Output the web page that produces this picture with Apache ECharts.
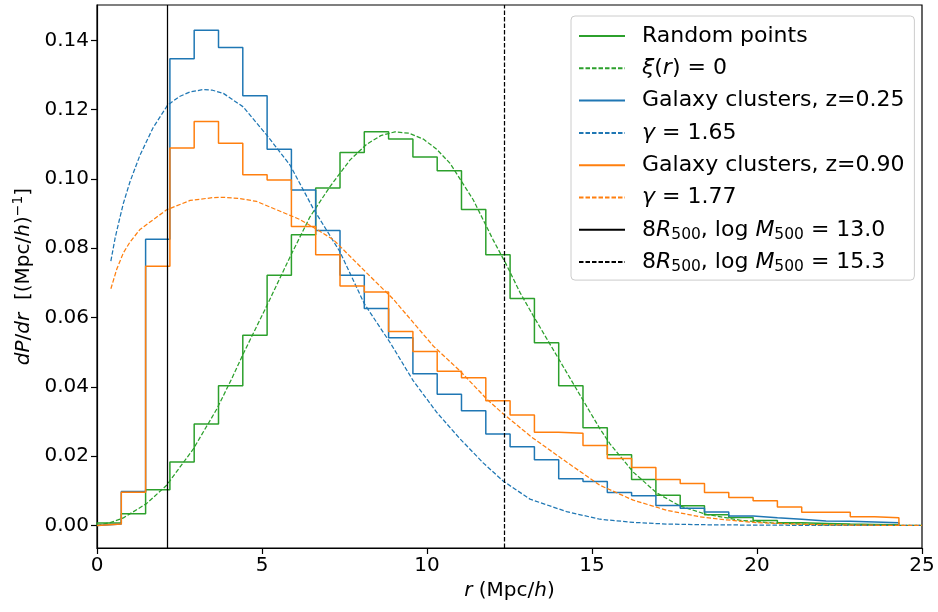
<!DOCTYPE html>
<html><head><meta charset="utf-8">
<script src="https://cdn.jsdelivr.net/npm/echarts@6/dist/echarts.min.js"></script>
<style>html,body{margin:0;padding:0;background:#fff}#c{width:938px;height:612px}</style>
</head><body><div id="c"></div>
<script>
// ---- data ----
const binEdges = [0, 0.736, 1.473, 2.209, 2.945, 3.682, 4.418, 5.155, 5.891, 6.627, 7.364, 8.100, 8.836, 9.573, 10.309, 11.045, 11.782, 12.518, 13.255, 13.991, 14.727, 15.464, 16.200, 16.936, 17.673, 18.409, 19.145, 19.882, 20.618, 21.355, 22.091, 22.827, 23.564, 24.300];
const histRandom = [0.0007, 0.0034, 0.0103, 0.0183, 0.0293, 0.0403, 0.0549, 0.0722, 0.0839, 0.0974, 0.1076, 0.1136, 0.1115, 0.1063, 0.1024, 0.0912, 0.0781, 0.0655, 0.0527, 0.0403, 0.0282, 0.0204, 0.0133, 0.0087, 0.0057, 0.0031, 0.0023, 0.0014, 0.0008, 0.0006, 0.0004, 0.0003, 0.0002];
const histZ025 = [0.0004, 0.0098, 0.0826, 0.1347, 0.1429, 0.1379, 0.1240, 0.1086, 0.0968, 0.0851, 0.0722, 0.0626, 0.0542, 0.0438, 0.0379, 0.0331, 0.0264, 0.0227, 0.0190, 0.0135, 0.0127, 0.0095, 0.0086, 0.0058, 0.0050, 0.0039, 0.0027, 0.0022, 0.0018, 0.0013, 0.0012, 0.0010, 0.0008];
const histZ090 = [0.0004, 0.0096, 0.0748, 0.1089, 0.1166, 0.1103, 0.1012, 0.0997, 0.0863, 0.0781, 0.0691, 0.0674, 0.0560, 0.0502, 0.0445, 0.0426, 0.0360, 0.0319, 0.0269, 0.0266, 0.0231, 0.0193, 0.0167, 0.0133, 0.0121, 0.0095, 0.0081, 0.0071, 0.0053, 0.0038, 0.0038, 0.0025, 0.0022];

const rXi0 = [0, 0.4, 0.8, 1.5, 2.11, 2.92, 3.63, 4.08, 4.43, 5.14, 5.85, 6.45, 7.06, 7.67, 8.17, 8.6, 9.03, 9.45, 9.89, 10.3, 10.7, 11.4, 12.0, 12.42, 12.82, 13.22, 14.23, 15.24, 15.55, 16.25, 16.96, 17.67, 18.47, 19.5, 20.5, 22, 25];
const pXi0 = [0, 0.0008, 0.0022, 0.0063, 0.0116, 0.0221, 0.0336, 0.0423, 0.0495, 0.0633, 0.0775, 0.0890, 0.0978, 0.1055, 0.1100, 0.1125, 0.1136, 0.1132, 0.1115, 0.1085, 0.1045, 0.0940, 0.0825, 0.0750, 0.0672, 0.0605, 0.0442, 0.0279, 0.0235, 0.0154, 0.0094, 0.0056, 0.0032, 0.0015, 0.0007, 0.0002, 0.0];

const rG165 = [0.42, 0.55, 0.68, 0.8, 1.0, 1.3, 1.7, 2.14, 2.5, 2.82, 3.22, 3.5, 3.83, 4.43, 5.14, 5.85, 6.55, 7.36, 8.1, 8.88, 9.58, 10.29, 11.0, 11.71, 12.31, 13.12, 14.23, 15.24, 16.25, 17.26, 18.5, 20, 22, 25];
const pG165 = [0.0763, 0.0830, 0.0883, 0.0930, 0.0992, 0.1068, 0.1148, 0.1213, 0.1238, 0.1251, 0.1258, 0.1256, 0.1247, 0.1208, 0.1127, 0.1040, 0.0915, 0.0790, 0.0640, 0.0528, 0.0418, 0.0327, 0.0250, 0.0180, 0.0128, 0.0076, 0.0040, 0.0018, 0.0009, 0.0004, 0.0002, 0.0001, 0.00003, 0.0];

const rG177 = [0.42, 0.6, 0.8, 1.0, 1.3, 2.11, 2.82, 3.5, 3.83, 4.3, 4.84, 5.85, 6.15, 6.65, 7.16, 8.17, 8.98, 10.19, 11.0, 11.81, 12.25, 13.17, 14.23, 15.24, 16.25, 17.26, 18.27, 18.88, 20, 21.5, 23, 25];
const pG177 = [0.0683, 0.0740, 0.0787, 0.0818, 0.0854, 0.0911, 0.0938, 0.0946, 0.0947, 0.0944, 0.0935, 0.0895, 0.0883, 0.0855, 0.0825, 0.0729, 0.0653, 0.0518, 0.0446, 0.0365, 0.0327, 0.0255, 0.0183, 0.0116, 0.0073, 0.0044, 0.0025, 0.0018, 0.0008, 0.0003, 0.0001, 0.0];

const r500Low = 2.14;   // 8R500, log M500 = 13.0
const r500High = 12.33; // 8R500, log M500 = 15.3

const xTicks = [0, 5, 10, 15, 20, 25];
const yTicks = [0, 0.02, 0.04, 0.06, 0.08, 0.10, 0.12, 0.14];
const xRange = [0, 25];
const yRange = [-0.0065, 0.1502];

// ---- build ----
const FONT = 'DejaVu Sans';
const C_GREEN = '#2ca02c', C_BLUE = '#1f77b4', C_ORANGE = '#ff7f0e';
function stepPoints(vals) {
  const pts = [[binEdges[0], 0]];
  vals.forEach((v, i) => { pts.push([binEdges[i], v]); pts.push([binEdges[i + 1], v]); });
  pts.push([binEdges[binEdges.length - 1], 0]);
  return pts;
}
function pairs(xs, ys) { return xs.map((x, i) => [x, ys[i]]); }
const DASH = [4.5, 2];

const histSeries = (name, vals, color) => ({
  name, type: 'line', data: stepPoints(vals), symbol: 'none', silent: true,
  lineStyle: { color, width: 1.5 }, itemStyle: { color }
});
const fitSeries = (name, xs, ys, color) => ({
  name, type: 'line', data: pairs(xs, ys), symbol: 'none', smooth: false, silent: true,
  lineStyle: { color, width: 1.25, type: DASH }, itemStyle: { color }
});
const vlineSeries = (name, x, type) => ({
  name, type: 'line', data: [], symbol: 'none', silent: true,
  lineStyle: { color: '#000', width: 1.25, type }, itemStyle: { color: '#000' },
  markLine: { silent: true, symbol: 'none', label: { show: false },
    lineStyle: { color: '#000', width: 1.25, type }, data: [{ xAxis: x }] }
});

const rs = (size) => ({ fontFamily: FONT, fontSize: size, color: '#000' });
const legendRich = {
  n: Object.assign(rs(22), { lineHeight: 26 }),
  i: Object.assign(rs(22), { lineHeight: 26, fontStyle: 'italic' }),
  s: Object.assign(rs(15.5), { lineHeight: 12, verticalAlign: 'bottom' })
};
const legendLabels = {
  'Random points': '{n|Random points}',
  'xi': '{i|ξ}{n|(}{i|r}{n|) = 0}',
  'z025': '{n|Galaxy clusters, z=0.25}',
  'g165': '{i|γ}{n| = 1.65}',
  'z090': '{n|Galaxy clusters, z=0.90}',
  'g177': '{i|γ}{n| = 1.77}',
  'm130': '{n|8}{i|R}{s|500}{n|, log }{i|M}{s|500}{n| = 13.0}',
  'm153': '{n|8}{i|R}{s|500}{n|, log }{i|M}{s|500}{n| = 15.3}'
};

const chart = echarts.init(document.getElementById('c'), null, { renderer: 'canvas' });
chart.setOption({
  animation: false,
  backgroundColor: '#fff',
  grid: { left: 97, right: 16, top: 5, bottom: 64, show: true, borderColor: '#000', borderWidth: 1.2, backgroundColor: 'transparent' },
  xAxis: {
    type: 'value', min: xRange[0], max: xRange[1], interval: 5,
    axisLine: { show: true, onZero: false, lineStyle: { color: '#000', width: 1.2 } },
    axisTick: { show: true, inside: false, length: 6, lineStyle: { color: '#000', width: 1.2 }, customValues: xTicks },
    axisLabel: { show: true, margin: 8, fontFamily: FONT, fontSize: 20, color: '#000', customValues: xTicks },
    splitLine: { show: false },
    name: '{i|r}{n| (Mpc/}{i|h}{n|)}', nameLocation: 'middle', nameGap: 32,
    nameTextStyle: { rich: { n: rs(20), i: Object.assign(rs(20), { fontStyle: 'italic' }) } }
  },
  yAxis: {
    type: 'value', min: yRange[0], max: yRange[1],
    axisLine: { show: true, onZero: false, lineStyle: { color: '#000', width: 1.2 } },
    axisTick: { show: true, inside: false, length: 6, lineStyle: { color: '#000', width: 1.2 }, customValues: yTicks },
    axisLabel: { show: true, margin: 8, fontFamily: FONT, fontSize: 20, color: '#000', customValues: yTicks,
      formatter: (v) => Number(v).toFixed(2) },
    splitLine: { show: false },
    name: '{i|dP}{n|/}{i|dr}{n|  [(Mpc/}{i|h}{n|)}{p|−1}{n|]}', nameLocation: 'middle', nameGap: 50, nameRotate: 90,
    nameTextStyle: { rich: {
      n: Object.assign(rs(20), { lineHeight: 24 }),
      i: Object.assign(rs(20), { lineHeight: 24, fontStyle: 'italic' }),
      p: Object.assign(rs(14), { lineHeight: 14, verticalAlign: 'top' })
    } }
  },
  legend: {
    orient: 'vertical', left: 571, top: 16,
    padding: [7, 10, 5, 7], itemGap: 6.3, itemWidth: 46, itemHeight: 12,
    backgroundColor: 'rgba(255,255,255,0.85)', borderColor: '#cccccc', borderWidth: 1, borderRadius: 4,
    itemStyle: { color: 'rgba(0,0,0,0)', borderWidth: 0, opacity: 0 },
    data: ['Random points', 'xi', 'z025', 'g165', 'z090', 'g177', 'm130', 'm153'],
    formatter: (name) => legendLabels[name],
    textStyle: { fontFamily: FONT, fontSize: 22, color: '#000', lineHeight: 26, padding: [0, 0, 0, 12], rich: legendRich },
    selectedMode: false
  },
  series: [
    histSeries('Random points', histRandom, C_GREEN),
    fitSeries('xi', rXi0, pXi0, C_GREEN),
    histSeries('z025', histZ025, C_BLUE),
    fitSeries('g165', rG165, pG165, C_BLUE),
    histSeries('z090', histZ090, C_ORANGE),
    fitSeries('g177', rG177, pG177, C_ORANGE),
    vlineSeries('m130', r500Low, 'solid'),
    vlineSeries('m153', r500High, DASH)
  ]
});
</script></body></html>
